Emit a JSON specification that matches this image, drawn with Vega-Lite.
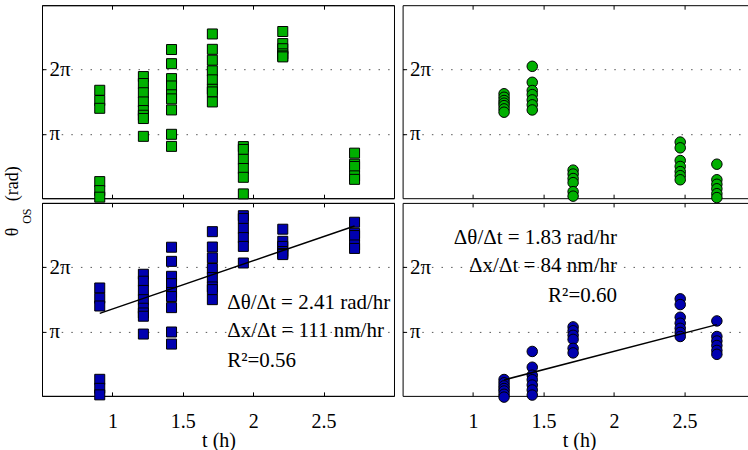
{
  "$schema": "https://vega.github.io/schema/vega-lite/v6.json",
  "padding": {"left": 3, "top": 4.2, "right": 0, "bottom": 0},
  "background": "white",
  "config": {
    "view": {"stroke": null},
    "axis": {"domainColor": "black", "tickColor": "black", "labelColor": "black", "titleColor": "black", "labelFont": "Liberation Serif, Times New Roman, Times, DejaVu Serif, serif", "titleFont": "Liberation Serif, Times New Roman, Times, DejaVu Serif, serif", "labelFontSize": 20, "titleFontSize": 20, "titleFontWeight": "normal", "domainWidth": 1, "tickWidth": 1, "labelOverlap": false, "labelFlush": false, "tickSize": -4},
    "text": {"font": "Liberation Serif, Times New Roman, Times, DejaVu Serif, serif"}
  },
  "datasets": {
    "tl": [
      {"t":0.91,"theta":5.27},{"t":0.91,"theta":4.77},{"t":0.91,"theta":4.39},{"t":0.91,"theta":0.81},{"t":0.91,"theta":0.37},{"t":0.91,"theta":0.05},
      {"t":1.22,"theta":5.94},{"t":1.22,"theta":5.60},{"t":1.22,"theta":5.15},{"t":1.22,"theta":4.70},{"t":1.22,"theta":4.28},{"t":1.22,"theta":4.05},{"t":1.22,"theta":3.89},{"t":1.22,"theta":3.02},
      {"t":1.42,"theta":7.26},{"t":1.42,"theta":6.57},{"t":1.42,"theta":5.84},{"t":1.42,"theta":5.48},{"t":1.42,"theta":5.05},{"t":1.42,"theta":4.85},{"t":1.42,"theta":4.31},{"t":1.42,"theta":3.12},{"t":1.42,"theta":2.53},
      {"t":1.71,"theta":8.02},{"t":1.71,"theta":7.27},{"t":1.71,"theta":6.74},{"t":1.71,"theta":6.22},{"t":1.71,"theta":5.78},{"t":1.71,"theta":5.32},{"t":1.71,"theta":5.19},{"t":1.71,"theta":4.70},
      {"t":1.93,"theta":2.52},{"t":1.93,"theta":2.38},{"t":1.93,"theta":1.90},{"t":1.93,"theta":1.45},{"t":1.93,"theta":1.02},{"t":1.93,"theta":0.21},
      {"t":2.21,"theta":8.14},{"t":2.21,"theta":7.55},{"t":2.21,"theta":7.30},{"t":2.21,"theta":7.05},{"t":2.21,"theta":6.95},{"t":2.21,"theta":6.90},
      {"t":2.72,"theta":2.20},{"t":2.72,"theta":1.66},{"t":2.72,"theta":1.55},{"t":2.72,"theta":1.09},{"t":2.72,"theta":0.92}
    ],
    "bl": [
      {"t":0.91,"theta":5.27},{"t":0.91,"theta":4.77},{"t":0.91,"theta":4.39},{"t":0.91,"theta":0.81},{"t":0.91,"theta":0.37},{"t":0.91,"theta":0.05},
      {"t":1.22,"theta":5.94},{"t":1.22,"theta":5.60},{"t":1.22,"theta":5.15},{"t":1.22,"theta":4.70},{"t":1.22,"theta":4.28},{"t":1.22,"theta":4.05},{"t":1.22,"theta":3.89},{"t":1.22,"theta":3.02},
      {"t":1.42,"theta":7.26},{"t":1.42,"theta":6.57},{"t":1.42,"theta":5.84},{"t":1.42,"theta":5.48},{"t":1.42,"theta":5.05},{"t":1.42,"theta":4.85},{"t":1.42,"theta":4.31},{"t":1.42,"theta":3.12},{"t":1.42,"theta":2.53},
      {"t":1.71,"theta":8.02},{"t":1.71,"theta":7.27},{"t":1.71,"theta":6.74},{"t":1.71,"theta":6.22},{"t":1.71,"theta":5.78},{"t":1.71,"theta":5.32},{"t":1.71,"theta":5.19},{"t":1.71,"theta":4.70},
      {"t":1.93,"theta":8.80},{"t":1.93,"theta":8.66},{"t":1.93,"theta":8.18},{"t":1.93,"theta":7.73},{"t":1.93,"theta":7.30},{"t":1.93,"theta":6.49},
      {"t":2.21,"theta":8.14},{"t":2.21,"theta":7.55},{"t":2.21,"theta":7.30},{"t":2.21,"theta":7.05},{"t":2.21,"theta":6.95},{"t":2.21,"theta":6.90},
      {"t":2.72,"theta":8.48},{"t":2.72,"theta":7.94},{"t":2.72,"theta":7.83},{"t":2.72,"theta":7.37},{"t":2.72,"theta":7.20}
    ],
    "tr": [
      {"t":1.22,"theta":5.10},{"t":1.22,"theta":4.93},{"t":1.22,"theta":4.77},{"t":1.22,"theta":4.64},{"t":1.22,"theta":4.52},{"t":1.22,"theta":4.36},{"t":1.22,"theta":4.20},
      {"t":1.42,"theta":6.44},{"t":1.42,"theta":5.66},{"t":1.42,"theta":5.26},{"t":1.42,"theta":5.06},{"t":1.42,"theta":4.80},{"t":1.42,"theta":4.56},{"t":1.42,"theta":4.31},
      {"t":1.71,"theta":1.37},{"t":1.71,"theta":1.18},{"t":1.71,"theta":0.96},{"t":1.71,"theta":0.76},{"t":1.71,"theta":0.32},{"t":1.71,"theta":0.10},
      {"t":2.47,"theta":2.74},{"t":2.47,"theta":2.46},{"t":2.47,"theta":1.84},{"t":2.47,"theta":1.55},{"t":2.47,"theta":1.30},{"t":2.47,"theta":1.10},{"t":2.47,"theta":0.90},
      {"t":2.73,"theta":1.66},{"t":2.73,"theta":0.90},{"t":2.73,"theta":0.68},{"t":2.73,"theta":0.46},{"t":2.73,"theta":0.22},{"t":2.73,"theta":0.03}
    ],
    "br": [
      {"t":1.22,"theta":0.80},{"t":1.22,"theta":0.64},{"t":1.22,"theta":0.49},{"t":1.22,"theta":0.36},{"t":1.22,"theta":0.24},{"t":1.22,"theta":0.08},{"t":1.22,"theta":-0.06},
      {"t":1.42,"theta":2.17},{"t":1.42,"theta":1.40},{"t":1.42,"theta":1.01},{"t":1.42,"theta":0.79},{"t":1.42,"theta":0.53},{"t":1.42,"theta":0.29},{"t":1.42,"theta":0.04},
      {"t":1.71,"theta":3.37},{"t":1.71,"theta":3.18},{"t":1.71,"theta":2.96},{"t":1.71,"theta":2.76},{"t":1.71,"theta":2.32},{"t":1.71,"theta":2.10},
      {"t":2.47,"theta":4.74},{"t":2.47,"theta":4.46},{"t":2.47,"theta":3.84},{"t":2.47,"theta":3.55},{"t":2.47,"theta":3.30},{"t":2.47,"theta":3.10},{"t":2.47,"theta":2.90},
      {"t":2.73,"theta":3.66},{"t":2.73,"theta":2.90},{"t":2.73,"theta":2.68},{"t":2.73,"theta":2.46},{"t":2.73,"theta":2.22},{"t":2.73,"theta":2.03}
    ],
    "fitL": [{"t":0.91,"theta":4.03},{"t":2.72,"theta":8.30}],
    "fitR": [{"t":1.22,"theta":0.78},{"t":2.73,"theta":3.48}],
    "annL": [
      {"t":1.815,"theta":4.265,"label":"Δθ/Δt = 2.41 rad/hr"},
      {"t":1.815,"theta":2.863,"label":"Δx/Δt = 111 nm/hr"},
      {"t":1.815,"theta":1.397,"label":"R²=0.56"}
    ],
    "annR": [
      {"t":2.021,"theta":7.426,"label":"Δθ/Δt = 1.83 rad/hr"},
      {"t":2.021,"theta":6.038,"label":"Δx/Δt = 84 nm/hr"},
      {"t":2.021,"theta":4.607,"label":"R²=0.60"}
    ]
  },
  "columns": 2,
  "spacing": {"row": 4.7, "column": 8.6},
  "bounds": "flush",
  "align": "each",
  "concat": [
    {
      "width": 352, "height": 193,
      "view": {"stroke": "black", "strokeWidth": 1},
      "resolve": {"axis": {"x": "independent"}},
      "layer": [
        {
          "data": {"name": "tl"},
          "mark": {"type": "square", "size": 100, "filled": true, "fill": "#00b000", "stroke": "black", "strokeWidth": 1, "opacity": 1},
          "encoding": {
            "x": {"field": "t", "type": "quantitative", "scale": {"domain": [0.5, 3], "nice": false, "zero": false},
                  "axis": {"values": [1, 1.5, 2, 2.5], "labels": false, "grid": false, "title": "OS", "titleAngle": 270, "titleFontSize": 12, "titleX": -11.7, "titleY": 17.5, "titleBaseline": "alphabetic", "titleAlign": "center"}},
            "y": {"field": "theta", "type": "quantitative", "scale": {"domain": [0, 9.42477796], "nice": false, "zero": false},
                  "axis": {"values": [3.14159265, 6.28318531], "labelExpr": "datum.value < 4 ? 'π' : '2π'", "labelFontSize": 21, "labelAlign": "left", "labelBaseline": "middle", "labelPadding": -3, "grid": true, "gridDash": [1.5, 8.1], "gridColor": "#555", "gridWidth": 1,
                           "title": "(rad)", "titleFontSize": 18, "titleX": -24.2, "titleY": 178, "titleBaseline": "alphabetic", "titleAlign": "center"}}
          }
        },
        {
          "data": {"name": "tl"},
          "mark": {"type": "point", "opacity": 0},
          "encoding": {
            "x": {"field": "t", "type": "quantitative", "axis": {"orient": "top", "values": [1, 1.5, 2, 2.5], "labels": false, "grid": false, "title": null, "domain": true}},
            "y": {"field": "theta", "type": "quantitative"}
          }
        }
      ]
    },
    {
      "width": 345, "height": 193,
      "resolve": {"axis": {"x": "independent"}},
      "layer": [
        {
          "data": {"name": "tr"},
          "mark": {"type": "circle", "size": 110, "fill": "#00b000", "stroke": "black", "strokeWidth": 1, "opacity": 1},
          "encoding": {
            "x": {"field": "t", "type": "quantitative", "scale": {"domain": [0.5, 2.948], "nice": false, "zero": false},
                  "axis": {"values": [1, 1.5, 2, 2.5], "labels": false, "grid": false, "title": null}},
            "y": {"field": "theta", "type": "quantitative", "scale": {"domain": [0, 9.42477796], "nice": false, "zero": false},
                  "axis": {"values": [3.14159265, 6.28318531], "labelExpr": "datum.value < 4 ? 'π' : '2π'", "labelFontSize": 21, "labelAlign": "left", "labelBaseline": "middle", "labelPadding": -3, "grid": true, "gridDash": [1.5, 8.1], "gridColor": "#555", "gridWidth": 1, "title": null}}
          }
        },
        {
          "data": {"name": "tr"},
          "mark": {"type": "point", "opacity": 0},
          "encoding": {
            "x": {"field": "t", "type": "quantitative", "axis": {"orient": "top", "values": [1, 1.5, 2, 2.5], "labels": false, "grid": false, "title": null, "domain": true}},
            "y": {"field": "theta", "type": "quantitative"}
          }
        }
      ]
    },
    {
      "width": 352, "height": 193,
      "view": {"stroke": "black", "strokeWidth": 1},
      "resolve": {"axis": {"x": "independent"}},
      "layer": [
        {
          "data": {"name": "bl"},
          "mark": {"type": "square", "size": 100, "filled": true, "fill": "#0000b0", "stroke": "black", "strokeWidth": 1, "opacity": 1},
          "encoding": {
            "x": {"field": "t", "type": "quantitative", "scale": {"domain": [0.5, 3], "nice": false, "zero": false},
                  "axis": {"values": [1, 1.5, 2, 2.5], "format": "~g", "labelPadding": 19.7, "labelBaseline": "top", "grid": false, "title": "t (h)", "titleX": 176.5, "titleY": 50.5, "titleBaseline": "alphabetic", "titleAlign": "center"}},
            "y": {"field": "theta", "type": "quantitative", "scale": {"domain": [0, 9.42477796], "nice": false, "zero": false},
                  "axis": {"values": [3.14159265, 6.28318531], "labelExpr": "datum.value < 4 ? 'π' : '2π'", "labelFontSize": 21, "labelAlign": "left", "labelBaseline": "middle", "labelPadding": -3, "grid": true, "gridDash": [1.5, 8.1], "gridColor": "#555", "gridWidth": 1,
                           "title": "θ", "titleFontSize": 18, "titleX": -24.2, "titleY": 28.5, "titleBaseline": "alphabetic", "titleAlign": "center"}}
          }
        },
        {
          "data": {"name": "fitL"},
          "mark": {"type": "line", "color": "black", "strokeWidth": 1.5},
          "encoding": {
            "x": {"field": "t", "type": "quantitative", "axis": {"orient": "top", "values": [1, 1.5, 2, 2.5], "labels": false, "grid": false, "title": null, "domain": true}},
            "y": {"field": "theta", "type": "quantitative"}
          }
        },
        {
          "data": {"name": "annL"},
          "mark": {"type": "text", "align": "left", "baseline": "alphabetic", "fontSize": 21, "color": "black"},
          "encoding": {
            "x": {"field": "t", "type": "quantitative", "axis": null},
            "y": {"field": "theta", "type": "quantitative"},
            "text": {"field": "label"}
          }
        }
      ]
    },
    {
      "width": 345, "height": 193,
      "resolve": {"axis": {"x": "independent"}},
      "layer": [
        {
          "data": {"name": "br"},
          "mark": {"type": "circle", "size": 110, "fill": "#0000b0", "stroke": "black", "strokeWidth": 1, "opacity": 1},
          "encoding": {
            "x": {"field": "t", "type": "quantitative", "scale": {"domain": [0.5, 2.948], "nice": false, "zero": false},
                  "axis": {"values": [1, 1.5, 2, 2.5], "format": "~g", "labelPadding": 19.7, "labelBaseline": "top", "grid": false, "title": "t (h)", "titleX": 176.5, "titleY": 50.5, "titleBaseline": "alphabetic", "titleAlign": "center"}},
            "y": {"field": "theta", "type": "quantitative", "scale": {"domain": [0, 9.42477796], "nice": false, "zero": false},
                  "axis": {"values": [3.14159265, 6.28318531], "labelExpr": "datum.value < 4 ? 'π' : '2π'", "labelFontSize": 21, "labelAlign": "left", "labelBaseline": "middle", "labelPadding": -3, "grid": true, "gridDash": [1.5, 8.1], "gridColor": "#555", "gridWidth": 1, "title": null}}
          }
        },
        {
          "data": {"name": "fitR"},
          "mark": {"type": "line", "color": "black", "strokeWidth": 1.5},
          "encoding": {
            "x": {"field": "t", "type": "quantitative", "axis": {"orient": "top", "values": [1, 1.5, 2, 2.5], "labels": false, "grid": false, "title": null, "domain": true}},
            "y": {"field": "theta", "type": "quantitative"}
          }
        },
        {
          "data": {"name": "annR"},
          "mark": {"type": "text", "align": "right", "baseline": "alphabetic", "fontSize": 21, "color": "black"},
          "encoding": {
            "x": {"field": "t", "type": "quantitative", "axis": null},
            "y": {"field": "theta", "type": "quantitative"},
            "text": {"field": "label"}
          }
        }
      ]
    }
  ]
}
